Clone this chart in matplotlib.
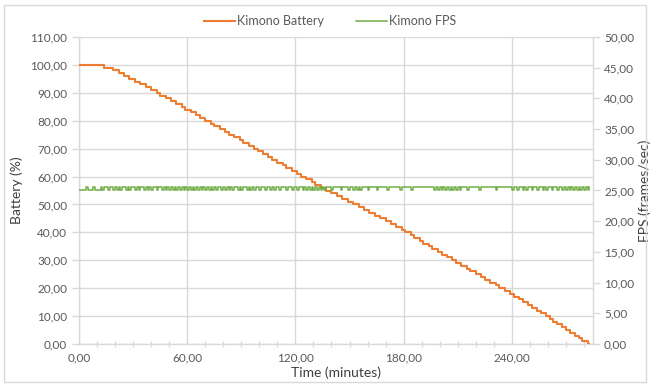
import matplotlib.pyplot as plt
from matplotlib.patches import Rectangle
from matplotlib.ticker import MultipleLocator, FuncFormatter

plt.rcParams["font.family"] = ["Lato", "DejaVu Sans"]

battery_color = "#ED7D31"
fps_color = "#70AD47"
grid_color = "#d9d9d9"
text_color = "#595959"

# minute at which battery drops by one percent (100 -> 99 -> ... -> 0)
battery_drop_minutes = [
    14, 19, 22, 25, 28, 31, 34, 37, 40, 43, 45, 48, 51, 54, 57, 59,
    62, 65, 67, 70, 73, 75, 78, 81, 83, 86, 89, 91, 94, 97, 99, 102,
    105, 107, 110, 113, 115, 118, 121, 123, 126, 129, 131, 134,
    137, 140, 143, 146, 149, 152, 155, 158, 161, 164, 167, 170, 173, 176, 179,
    181, 184, 186, 189, 191, 194, 196, 199,
    201, 204, 207, 209, 212, 215, 217, 220, 223, 225, 228, 231, 233, 236, 239,
    241, 244, 246, 249, 251, 254, 256, 259,
    261, 263, 265, 268, 270, 272, 275, 277, 279, 282,
]
battery_start = 100
end_minute = 283

# fps sampled each minute: ~25.6 normally, ~25.0 at these minutes
fps_high = 25.6
fps_low = 25.0
fps_low_minutes = [
    0, 1, 2, 3, 5, 6, 7, 9, 10, 11, 13, 16, 19, 21, 23, 26, 28, 31, 33,
    36, 38, 40, 43, 46, 48, 50, 52, 54, 56, 58, 60, 62, 64, 66, 68, 70,
    72, 74, 76, 79, 81, 83, 85, 88, 90, 93, 95, 97, 100, 103, 106, 108,
    111, 115, 118, 121, 124, 126, 128, 130, 132, 134, 136, 140, 145, 149,
    152, 154, 156, 160, 165, 171, 178, 184, 197, 199, 201, 203, 205, 207,
    209, 211, 215, 222, 231, 240, 243, 246, 248, 251, 254, 257, 259, 262,
    265, 268, 270, 272, 274, 276, 278, 280, 282,
]

battery_x = [0] + battery_drop_minutes + [end_minute]
battery_y = [battery_start] + [battery_start - i - 1 for i in range(len(battery_drop_minutes))] + [0]

fps_x = list(range(end_minute + 1))
fps_y = [fps_low if m in fps_low_minutes else fps_high for m in fps_x]

fig = plt.figure(figsize=(6.53, 3.87), dpi=100)
fig.patches.append(Rectangle((4 / 653, 5 / 387), 642 / 653, 377 / 387,
                             transform=fig.transFigure, fill=False,
                             edgecolor=grid_color, lw=1))

ax = fig.add_axes([79 / 653, 43 / 387, 514 / 653, 307 / 387])
ax2 = ax.twinx()

l1, = ax.step(battery_x, battery_y, where="post", color=battery_color, lw=1.5,
              label="Kimono Battery", zorder=3)
l2, = ax2.step(fps_x, fps_y, where="post", color=fps_color, lw=1.1,
               label="Kimono FPS", zorder=3)

comma = FuncFormatter(lambda v, p: "{:.2f}".format(v).replace(".", ","))

ax.set_xlim(0, 285)
ax.set_ylim(0, 110)
ax2.set_ylim(0, 50)
ax.xaxis.set_major_locator(MultipleLocator(60))
ax.xaxis.set_minor_locator(MultipleLocator(10))
ax.yaxis.set_major_locator(MultipleLocator(10))
ax2.yaxis.set_major_locator(MultipleLocator(5))
ax.xaxis.set_major_formatter(comma)
ax.yaxis.set_major_formatter(comma)
ax2.yaxis.set_major_formatter(comma)

ax.grid(True, which="major", color=grid_color, lw=1, zorder=0)
ax.set_axisbelow(True)

for a in (ax, ax2):
    a.spines["top"].set_visible(False)
    for s in ("left", "right", "bottom"):
        a.spines[s].set_color(grid_color)
        a.spines[s].set_linewidth(1)
ax.spines["right"].set_visible(False)
ax2.spines["left"].set_visible(False)
ax2.spines["bottom"].set_visible(False)

ax.tick_params(axis="both", which="both", colors=grid_color, labelcolor=text_color,
               labelsize=8.5, length=5, width=1)
ax.tick_params(axis="x", which="major", length=0, pad=6)
ax.tick_params(axis="x", which="minor", length=5, direction="inout")
ax2.tick_params(axis="y", colors=grid_color, labelcolor=text_color,
                labelsize=8.5, length=5, width=1, pad=3)

ax.set_xlabel("Time (minutes)", fontsize=10, color="#404040", labelpad=2)
ax.set_ylabel("Battery (%)", fontsize=10, color="#404040", labelpad=5)
ax2.set_ylabel("FPS (frames/sec)", fontsize=10, color="#404040", labelpad=3)

fig.legend(handles=[l1, l2], loc="center", bbox_to_anchor=(330 / 653, 1 - 21 / 387),
           ncol=2, frameon=False, fontsize=9, handlelength=2.5, columnspacing=2.5,
           handletextpad=0.2, labelcolor=text_color)

fig.savefig("out.png", dpi=100)
